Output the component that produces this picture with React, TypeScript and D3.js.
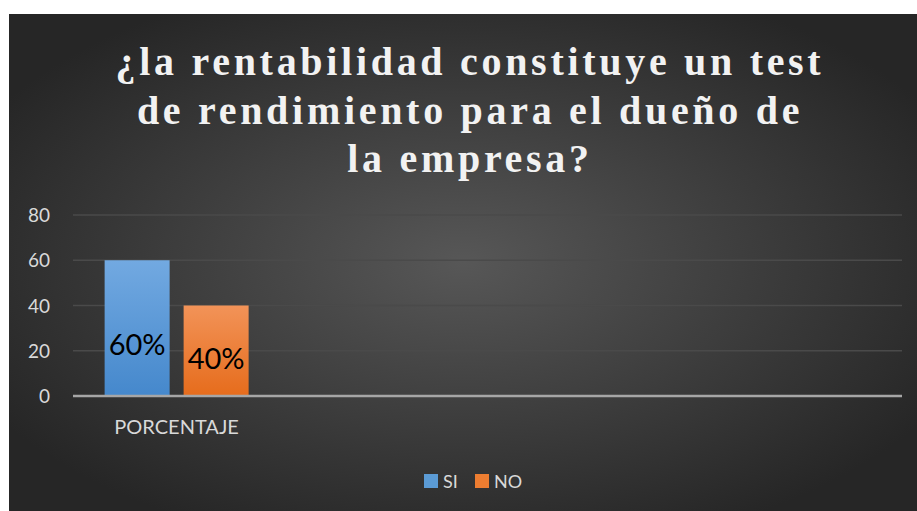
import React from "react";
import * as d3 from "d3";

const categories = ["PORCENTAJE", "", "", ""];
const seriesNames = ["SI", "NO"];
const siValues = [60];
const noValues = [40];
const labels = ["60%", "40%"];
const yTicks = [0, 20, 40, 60, 80];
const titleLines = [
  "¿la rentabilidad constituye un test",
  "de rendimiento para el dueño de",
  "la empresa?",
];

const W = 917;
const H = 511;

export default function App() {
  const x0 = d3.scaleBand<string>().domain(categories.map((c, i) => String(i))).range([73, 902]).paddingInner(0).paddingOuter(0);
  const bw = x0.bandwidth();
  const barW = 65;
  const gap = 14;
  const y = d3.scaleLinear().domain([0, 80]).range([396, 215]);
  const series = [siValues, noValues];
  const grads = [
    ["#72a9e1", "#4588cc"],
    ["#f29358", "#e66c1c"],
  ];
  const legendColors = ["#5b9bd5", "#ed7d31"];

  return (
    <svg width={W} height={H} style={{ position: "absolute", left: 0, top: 0 }}>
      <defs>
        <radialGradient id="bg" cx="50%" cy="50%" r="60%">
          <stop offset="0" stopColor="#575757" />
          <stop offset="1" stopColor="#262626" />
        </radialGradient>
        {grads.map((g, i) => (
          <linearGradient key={i} id={`g${i}`} x1="0" y1="0" x2="0" y2="1">
            <stop offset="0" stopColor={g[0]} />
            <stop offset="1" stopColor={g[1]} />
          </linearGradient>
        ))}
      </defs>
      <rect x={0} y={0} width={W} height={H} fill="#ffffff" />
      <rect x={9} y={14} width={W - 9} height={H - 14} fill="url(#bg)" />
      {titleLines.map((t, i) => (
        <text
          key={i}
          x={470}
          y={75 + i * 48.5}
          textAnchor="middle"
          fill="#f2f2f2"
          fontFamily="'Liberation Serif', 'DejaVu Serif', serif"
          fontWeight="bold"
          fontSize={40}
          letterSpacing={3.7}
        >
          {t}
        </text>
      ))}
      {yTicks.filter((t) => t !== 0).map((t) => (
        <line key={t} x1={73} x2={902} y1={y(t)} y2={y(t)} stroke="#4a4a4a" strokeWidth={1.5} />
      ))}
      {yTicks.map((t) => (
        <text key={"l" + t} x={50} y={y(t) + 7} textAnchor="end" fill="#d9d9d9" fontFamily="Lato, 'Open Sans', sans-serif" fontSize={19}>
          {t}
        </text>
      ))}
      {series.map((vals, si) =>
        vals.map((v, ci) => {
          const cx = (x0(String(ci)) as number) + bw / 2;
          const bx = cx - gap / 2 - barW + si * (barW + gap);
          return (
            <g key={si + "-" + ci}>
              <rect x={bx} y={y(v)} width={barW} height={y(0) - y(v)} fill={`url(#g${si})`} />
              <text
                x={bx + barW / 2}
                y={y(v * 0.3)}
                textAnchor="middle"
                fill="#000000"
                fontFamily="Lato, 'Open Sans', sans-serif"
                fontSize={29}
              >
                {labels[si]}
              </text>
            </g>
          );
        })
      )}
      <line x1={73} x2={902} y1={y(0)} y2={y(0)} stroke="#a6a6a6" strokeWidth={2.5} />
      {categories.map((c, i) => (
        <text key={"c" + i} x={(x0(String(i)) as number) + bw / 2} y={434} textAnchor="middle" fill="#d9d9d9" fontFamily="Lato, 'Open Sans', sans-serif" fontSize={20}>
          {c}
        </text>
      ))}
      {seriesNames.map((s, i) => {
        const lx = [424, 475][i];
        return (
          <g key={"lg" + i}>
            <rect x={lx} y={474} width={14} height={14} fill={legendColors[i]} />
            <text x={lx + 19} y={488} fill="#d9d9d9" fontFamily="Lato, 'Open Sans', sans-serif" fontSize={18}>
              {s}
            </text>
          </g>
        );
      })}
    </svg>
  );
}
